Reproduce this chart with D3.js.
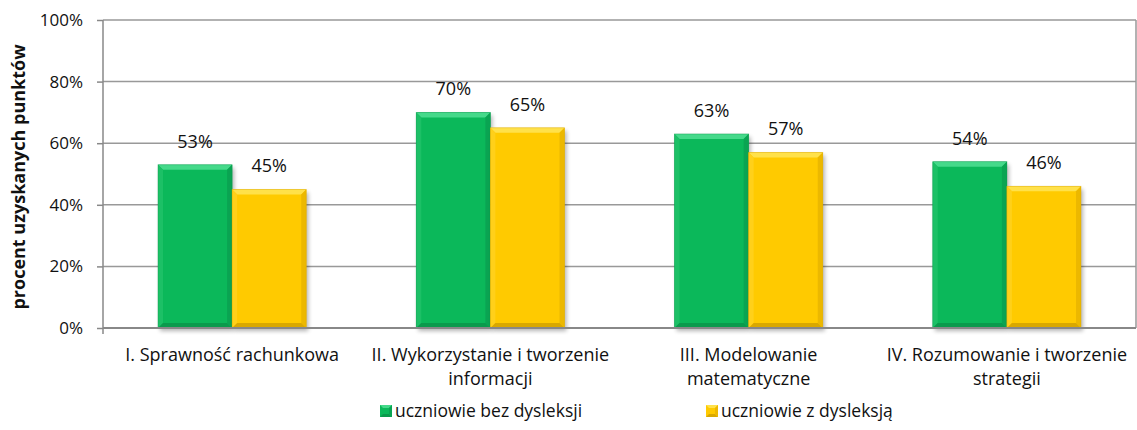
<!DOCTYPE html>
<html>
<head>
<meta charset="utf-8">
<script src="https://cdnjs.cloudflare.com/ajax/libs/d3/7.8.5/d3.min.js"></script>
<style>
  body { margin: 0; background: #fff; }
  svg { font-family: "Open Sans", sans-serif; }
</style>
</head>
<body>
<svg id="chart" width="1137" height="430"></svg>
<script>
// dane
var categories = [
  ['I. Sprawność rachunkowa'],
  ['II. Wykorzystanie i tworzenie', 'informacji'],
  ['III. Modelowanie', 'matematyczne'],
  ['IV. Rozumowanie i tworzenie', 'strategii']
];
var series_names = ['uczniowie bez dysleksji', 'uczniowie z dysleksją'];
var without_dyslexia = [53, 70, 63, 54];
var with_dyslexia = [45, 65, 57, 46];
var y_ticks = [0, 20, 40, 60, 80, 100];

var colors = [
  {main: '#0bb85a', light: '#45d98a', left: '#1cc066', dark: '#0a9a4c', side: '#0aa452'},
  {main: '#ffca00', light: '#ffe14a', left: '#ffd01a', dark: '#d9a800', side: '#ecb800'}
];

var padding = {top: 20, left: 103, right: 1, bottom: 102};
var svg = d3.select('#chart');
var width = 1137, height = 430;
var plot_w = width - padding.left - padding.right;
var plot_h = height - padding.top - padding.bottom;

var defs = svg.append('defs');
var shadow = defs.append('filter').attr('id', 'shadow')
  .attr('x', '-10%').attr('y', '-10%').attr('width', '130%').attr('height', '130%');
shadow.append('feGaussianBlur').attr('in', 'SourceAlpha').attr('stdDeviation', 2);
shadow.append('feOffset').attr('dx', 2).attr('dy', 3).attr('result', 'off');
shadow.append('feComponentTransfer').append('feFuncA').attr('type', 'linear').attr('slope', 0.3);

var x_scale = d3.scaleBand()
  .domain(d3.range(categories.length))
  .range([0, plot_w])
  .paddingInner(0.426)
  .paddingOuter(0.213);
var x_inner = d3.scaleBand().domain([0, 1]).range([0, x_scale.bandwidth()]);
var y_scale = d3.scaleLinear().domain([0, 100]).range([plot_h, 0]);

var g = svg.append('g').attr('transform', 'translate(' + padding.left + ',' + padding.top + ')');

// siatka
g.append('g')
  .selectAll('line').data(y_ticks.slice(1)).join('line')
  .attr('x1', 0).attr('x2', plot_w)
  .attr('y1', function(d){ return y_scale(d); }).attr('y2', function(d){ return y_scale(d); })
  .attr('stroke', '#999').attr('stroke-width', 1.5);
g.append('line').attr('x1', plot_w).attr('x2', plot_w).attr('y1', 0).attr('y2', plot_h)
  .attr('stroke', '#999').attr('stroke-width', 1.5);

// słupki
var bevel = 5;
var data = [without_dyslexia, with_dyslexia];
data.forEach(function(values, s){
  var c = colors[s];
  var bw = x_inner.bandwidth();
  var bars = g.append('g').selectAll('g').data(values).join('g')
    .attr('transform', function(d, i){
      return 'translate(' + (x_scale(i) + x_inner(s)) + ',' + y_scale(d) + ')';
    });
  bars.each(function(d){
    var b = d3.select(this);
    var h = plot_h - y_scale(d);
    b.append('rect').attr('width', bw).attr('height', h).attr('fill', c.main).attr('filter', 'url(#shadow)');
    b.append('rect').attr('width', bw).attr('height', h).attr('fill', c.main);
    b.append('polygon').attr('points', [[0,0],[bw,0],[bw-bevel,bevel],[bevel,bevel]].join(' ')).attr('fill', c.light);
    b.append('polygon').attr('points', [[0,0],[bevel,bevel],[bevel,h-bevel],[0,h]].join(' ')).attr('fill', c.left);
    b.append('polygon').attr('points', [[bw,0],[bw,h],[bw-bevel,h-bevel],[bw-bevel,bevel]].join(' ')).attr('fill', c.side);
    b.append('polygon').attr('points', [[0,h],[bw,h],[bw-bevel,h-bevel],[bevel,h-bevel]].join(' ')).attr('fill', c.dark);
    b.append('rect').attr('width', bw).attr('height', h).attr('fill', 'none').attr('stroke', c.dark).attr('stroke-width', 0.8).attr('stroke-opacity', 0.5);
  });
  bars.append('text')
    .attr('x', bw / 2).attr('y', -17)
    .attr('text-anchor', 'middle')
    .attr('font-size', 18).attr('fill', '#111')
    .text(function(d){ return d + '%'; });
});

// osie
var y_axis = g.append('g').call(d3.axisLeft(y_scale).tickValues(y_ticks).tickSize(6).tickFormat(function(d){ return d + '%'; }));
y_axis.select('.domain').remove();
y_axis.selectAll('.tick line').attr('stroke', '#888').attr('stroke-width', 1.5);
y_axis.selectAll('.tick text').attr('font-size', 17).attr('fill', '#111').attr('x', -20).attr('font-family', '"Open Sans", sans-serif');
g.append('line').attr('x1', 0).attr('x2', 0).attr('y1', 0).attr('y2', plot_h + 6)
  .attr('stroke', '#888').attr('stroke-width', 1.5);
g.append('line').attr('x1', 0).attr('x2', plot_w).attr('y1', plot_h).attr('y2', plot_h)
  .attr('stroke', '#888').attr('stroke-width', 2);

// etykiety kategorii
var cat = g.append('g').selectAll('text').data(categories).join('text')
  .attr('text-anchor', 'middle')
  .attr('font-size', 18).attr('fill', '#111')
  .attr('transform', function(d, i){ return 'translate(' + (x_scale(i) + x_scale.bandwidth() / 2) + ',' + (plot_h + 33) + ')'; });
cat.selectAll('tspan').data(function(d){ return d; }).join('tspan')
  .attr('x', 0).attr('dy', function(d, i){ return i ? 24 : 0; })
  .text(function(d){ return d; });

// tytuł osi Y
svg.append('text')
  .attr('transform', 'translate(25,177) rotate(-90)')
  .attr('text-anchor', 'middle').attr('font-size', 18).attr('font-weight', 'bold').attr('fill', '#111')
  .text('procent uzyskanych punktów');

// legenda
var legend_x = [380, 706];
var leg = svg.append('g').selectAll('g').data(series_names).join('g')
  .attr('transform', function(d, i){ return 'translate(' + legend_x[i] + ',405)'; });
leg.each(function(d, i){
  var l = d3.select(this), c = colors[i], s = 12, bv = 3;
  l.append('rect').attr('width', s).attr('height', s).attr('fill', c.main);
  l.append('polygon').attr('points', [[0,0],[s,0],[s-bv,bv],[bv,bv]].join(' ')).attr('fill', c.light);
  l.append('polygon').attr('points', [[0,s],[s,s],[s-bv,s-bv],[bv,s-bv]].join(' ')).attr('fill', c.dark);
  l.append('polygon').attr('points', [[s,0],[s,s],[s-bv,s-bv],[s-bv,bv]].join(' ')).attr('fill', c.side);
});
leg.append('text').attr('x', 15).attr('y', 12).attr('font-size', 17.5).attr('fill', '#111')
  .text(function(d){ return d; });
</script>
</body>
</html>
